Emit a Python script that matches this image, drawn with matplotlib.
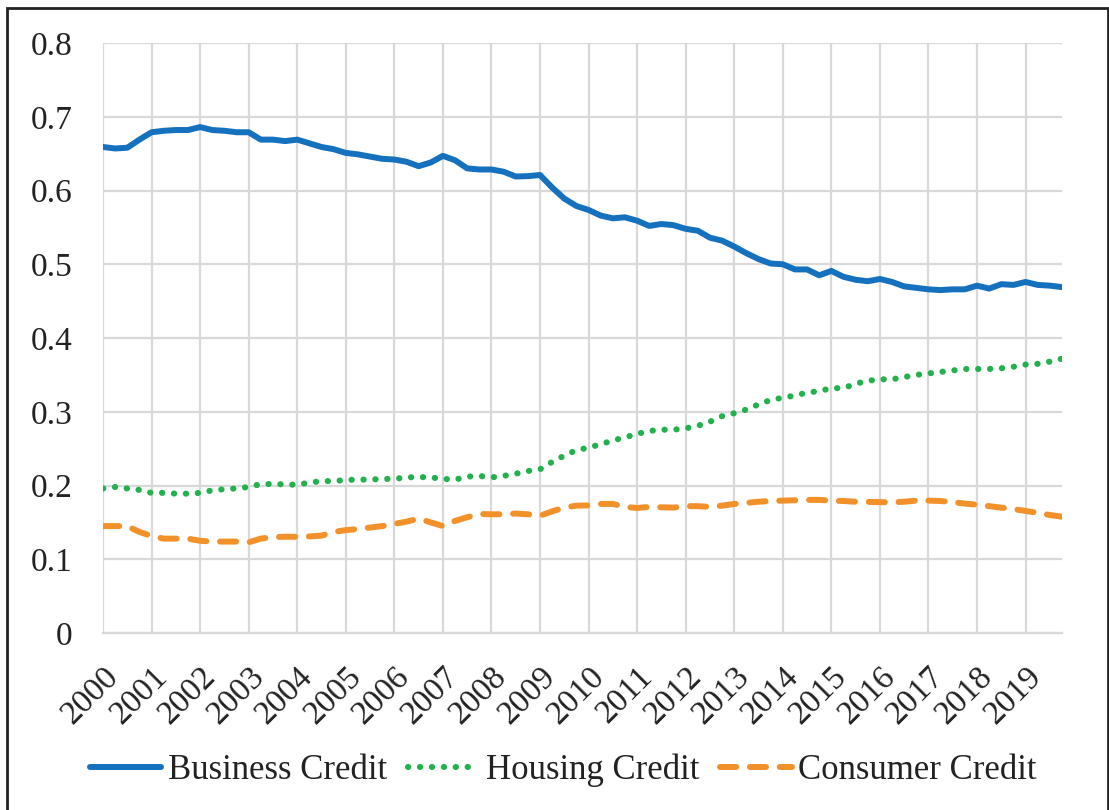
import numpy as np
import matplotlib
matplotlib.use('Agg')
import matplotlib.pyplot as plt
from matplotlib.patches import Rectangle

plt.rcParams['font.family'] = ['Liberation Serif', 'DejaVu Serif']

# quarterly data 2000Q1 - 2019Q4
years = list(range(2000, 2020))

business = [0.659, 0.657, 0.658, 0.669,
            0.679, 0.681, 0.682, 0.682,
            0.686, 0.682, 0.681, 0.679,
            0.679, 0.669, 0.669, 0.667,
            0.669, 0.664, 0.659, 0.656,
            0.651, 0.649, 0.646, 0.643,
            0.642, 0.639, 0.633, 0.638,
            0.647, 0.641, 0.630, 0.6285,
            0.6285, 0.6255, 0.619, 0.6195,
            0.621, 0.604, 0.589, 0.579,
            0.5736, 0.566, 0.5623, 0.5637,
            0.559, 0.552, 0.5546, 0.553,
            0.548, 0.5455, 0.536, 0.532,
            0.524, 0.515, 0.507, 0.501,
            0.500, 0.493, 0.493, 0.485,
            0.491, 0.483, 0.479, 0.477,
            0.480, 0.476, 0.470, 0.468,
            0.466, 0.465, 0.466, 0.466,
            0.471, 0.467, 0.473, 0.472,
            0.476, 0.472, 0.471, 0.469]

housing = [0.196, 0.198, 0.196, 0.194,
           0.190, 0.190, 0.189, 0.189,
           0.190, 0.1935, 0.195, 0.196,
           0.198, 0.202, 0.202, 0.2015,
           0.201, 0.204, 0.206, 0.206,
           0.2075, 0.208, 0.208, 0.209,
           0.209, 0.211, 0.2115, 0.211,
           0.209, 0.208, 0.212, 0.213,
           0.211, 0.213, 0.216, 0.2197,
           0.222, 0.232, 0.2405, 0.248,
           0.2513, 0.256, 0.261, 0.2653,
           0.270, 0.274, 0.2757, 0.2757,
           0.2775, 0.281, 0.2865, 0.294,
           0.298, 0.303, 0.310, 0.316,
           0.319, 0.322, 0.326, 0.328,
           0.332, 0.332, 0.338, 0.342,
           0.344, 0.344, 0.347, 0.350,
           0.352, 0.354, 0.356, 0.358,
           0.358, 0.358, 0.359, 0.361,
           0.364, 0.365, 0.368, 0.372]

consumer = [0.145, 0.145, 0.145, 0.137,
            0.1315, 0.128, 0.128, 0.128,
            0.125, 0.124, 0.124, 0.124,
            0.123, 0.128, 0.130, 0.1305,
            0.1305, 0.131, 0.132, 0.137,
            0.1395, 0.141, 0.143, 0.145,
            0.148, 0.151, 0.155, 0.150,
            0.145, 0.152, 0.157, 0.1614,
            0.161, 0.161, 0.162, 0.161,
            0.159, 0.165, 0.170, 0.1727,
            0.173, 0.175, 0.175, 0.171,
            0.1695, 0.171, 0.1705, 0.170,
            0.172, 0.172, 0.171, 0.1727,
            0.175, 0.1765, 0.178, 0.179,
            0.1795, 0.180, 0.1805, 0.1805,
            0.1795, 0.179, 0.178, 0.1778,
            0.1775, 0.1772, 0.178, 0.1795,
            0.1795, 0.179, 0.1775, 0.1755,
            0.174, 0.172, 0.170, 0.168,
            0.1655, 0.163, 0.160, 0.1577]

x = 2000 + np.arange(len(business)) / 4.0

fig = plt.figure(figsize=(11.09, 8.10), dpi=100)
ax = fig.add_axes([0.0929, 0.2185, 0.9576 - 0.0929, 0.9469 - 0.2185])

ax.plot(x, business, color='#1570BE', lw=4.3, solid_capstyle='round',
        label='Business Credit', zorder=3)
ax.plot(x, housing, color='#22B14C', lw=4.4, linestyle=(0, (0.05, 1.9)),
        dash_capstyle='round', label='Housing Credit', zorder=3)
ax.plot(x, consumer, color='#F2912A', lw=4.3, linestyle=(0, (2.7, 2.3)),
        dash_capstyle='round', label='Consumer Credit', zorder=3)

ax.set_xlim(2000, 2019.75)
ax.set_ylim(0, 0.8)
ax.set_yticks(np.arange(0, 0.81, 0.1))
ax.set_yticklabels(['0', '0.1', '0.2', '0.3', '0.4', '0.5', '0.6', '0.7', '0.8'])
ax.set_xticks(years)
ax.set_xticklabels([str(y) for y in years], rotation=45, ha='right',
                   rotation_mode='anchor')

ax.grid(True, color='#d9d9d9', lw=1.6)
ax.set_axisbelow(True)
for s in ['top', 'right', 'left']:
    ax.spines[s].set_visible(False)
ax.spines['bottom'].set_color('#d9d9d9')
ax.spines['bottom'].set_linewidth(1.6)
ax.tick_params(axis='both', length=0, labelsize=24, colors='#222222')
ax.tick_params(axis='y', pad=22)
ax.tick_params(axis='x', pad=20)

fig.legend(loc='center', bbox_to_anchor=(0.508, 0.049), ncol=3, frameon=False,
           fontsize=25, handlelength=2.05, handletextpad=0.2, columnspacing=0.6,
           labelcolor='#222222')

fig.patches.append(Rectangle((7 / 1109, -0.01), 1101 / 1109, 1.01 - 8 / 810,
                             transform=fig.transFigure, fill=False,
                             edgecolor='#222222', lw=2))

fig.savefig('out.png', dpi=100)
